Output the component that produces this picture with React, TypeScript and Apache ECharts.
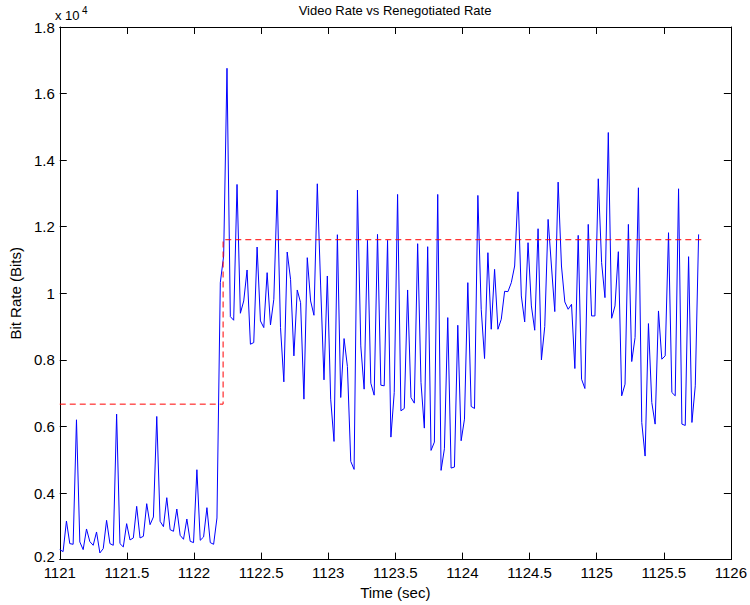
import React, { useEffect, useRef } from "react";
import * as echarts from "echarts";

// Frame timing of the video trace (seconds)
const START_TIME = 1121.0;
const FRAME_PERIOD = 0.02492;

// Per-frame video bit rate (bits)
const VIDEO_RATE_BITS: number[] = [
  2300, 2240, 3160, 2480, 2460, 6200, 2530, 2300, 2920, 2540, 2430, 2830,
  2200, 2330, 3180, 2480, 2430, 6370, 2480, 2380, 3080, 2590, 2650, 3600,
  2650, 2700, 3680, 3050, 3280, 6300, 3150, 2990, 3860, 2900, 2850, 3520,
  2730, 2610, 3220, 2550, 2510, 4700, 2580, 2680, 3560, 2510, 2460, 3250,
  10320, 11120, 16760, 9300, 9190, 13270, 9400, 9770, 10700, 8470, 8520, 11390,
  9170, 8970, 10620, 9050, 9820, 13100, 8970, 7340, 11240, 10420, 8120, 10100,
  9720, 6820, 11070, 9770, 9340, 13290, 10220, 7400, 10520, 6820, 5550, 11760,
  6870, 8640, 7800, 4950, 4710, 13100, 8420, 7120, 11590, 7300, 6940, 11770,
  7240, 7220, 11590, 5680, 7020, 12970, 6470, 6540, 10100, 6870, 6700, 11490,
  7320, 5950, 11400, 5280, 5530, 12970, 4680, 5330, 9270, 4750, 4780, 9040,
  5570, 6220, 10320, 6600, 6540, 12940, 9520, 8040, 11220, 8920, 10720, 8920,
  9220, 10060, 10050, 10320, 10820, 13050, 9920, 9140, 11520, 9620, 8890, 11940,
  8000, 9000, 12220, 10820, 9450, 13340, 10820, 9740, 9520, 9670, 7740, 11740,
  7420, 7140, 12070, 9320, 9320, 13440, 10920, 9870, 14830, 9250, 9620, 11250,
  6920, 7270, 12070, 7950, 8670, 13170, 6120, 5110, 9090, 6720, 6070, 9470,
  8020, 8120, 11820, 7020, 6920, 13140, 6070, 6030, 11100, 6120, 7220, 11770,
];

// Renegotiated rate (bits) as a step
const RATE_TIMES: number[] = [1121.0, 1122.217, 1122.217, 1125.79];
const RATE_BITS: number[] = [6670, 6670, 11610, 11610];

// Axis settings
const X_MIN = 1121;
const X_MAX = 1126;
const X_STEP = 0.5;
const Y_MIN = 2000;
const Y_MAX = 18000;
const Y_STEP = 2000;
const Y_SCALE = 10000;

const FONT = "'Liberation Sans', Arial, Helvetica, sans-serif";

export default function App() {
  const ref = useRef<HTMLDivElement>(null);

  useEffect(() => {
    if (!ref.current) return;
    const chart = echarts.init(ref.current, null, { renderer: "svg" });

    const videoData = VIDEO_RATE_BITS.map((v, i) => [START_TIME + i * FRAME_PERIOD, v]);
    const rateData = RATE_TIMES.map((t, i) => [t, RATE_BITS[i]]);

    const axisLine = { show: true, onZero: false, lineStyle: { color: "#000", width: 1 } };
    const axisTick = { show: true, inside: true, length: 7, lineStyle: { color: "#000", width: 1 } };

    chart.setOption({
      animation: false,
      backgroundColor: "#fff",
      grid: { left: 56, right: 16, top: 27, bottom: 44, containLabel: false },
      xAxis: [
        {
          type: "value",
          min: X_MIN,
          max: X_MAX,
          interval: X_STEP,
          position: "bottom",
          name: "Time (sec)",
          nameLocation: "middle",
          nameGap: 23,
          nameTextStyle: { color: "#000", fontSize: 15, fontFamily: FONT },
          axisLine,
          axisTick,
          axisLabel: {
            color: "#000",
            fontSize: 15,
            lineHeight: 12,
            fontFamily: FONT,
            margin: 7,
            formatter: (v: number) => String(v),
          },
          splitLine: { show: false },
        },
        {
          type: "value",
          min: X_MIN,
          max: X_MAX,
          interval: X_STEP,
          position: "top",
          axisLine,
          axisTick,
          axisLabel: { show: false },
          splitLine: { show: false },
        },
      ],
      yAxis: [
        {
          type: "value",
          min: Y_MIN,
          max: Y_MAX,
          interval: Y_STEP,
          position: "left",
          name: "Bit Rate (Bits)",
          nameLocation: "middle",
          nameGap: 31,
          nameTextStyle: { color: "#000", fontSize: 15, fontFamily: FONT },
          axisLine,
          axisTick,
          axisLabel: {
            color: "#000",
            fontSize: 15,
            lineHeight: 12,
            fontFamily: FONT,
            margin: 5,
            formatter: (v: number) =>
              v === Y_MIN ? `{lo|${v / Y_SCALE}}` : String(v / Y_SCALE),
            rich: {
              lo: {
                color: "#000",
                fontSize: 15,
                lineHeight: 12,
                fontFamily: FONT,
                padding: [0, 0, 6, 0],
              },
            },
          },
          splitLine: { show: false },
        },
        {
          type: "value",
          min: Y_MIN,
          max: Y_MAX,
          interval: Y_STEP,
          position: "right",
          axisLine,
          axisTick,
          axisLabel: { show: false },
          splitLine: { show: false },
        },
      ],
      graphic: [
        {
          type: "text",
          x: 395,
          y: 10,
          style: {
            text: "Video Rate vs Renegotiated Rate",
            fill: "#000",
            font: `13px ${FONT}`,
            textAlign: "center",
            textVerticalAlign: "middle",
          },
        },
        {
          type: "text",
          x: 55,
          y: 15,
          style: {
            text: "x 10",
            fill: "#000",
            font: `13px ${FONT}`,
            textAlign: "left",
            textVerticalAlign: "middle",
          },
        },
        {
          type: "text",
          x: 82,
          y: 10,
          style: {
            text: "4",
            fill: "#000",
            font: `10px ${FONT}`,
            textAlign: "left",
            textVerticalAlign: "middle",
          },
        },
      ],
      series: [
        {
          type: "line",
          xAxisIndex: 0,
          yAxisIndex: 0,
          data: videoData,
          symbol: "none",
          showSymbol: false,
          lineStyle: { color: "#0000ff", width: 1 },
          z: 2,
        },
        {
          type: "line",
          xAxisIndex: 0,
          yAxisIndex: 0,
          data: rateData,
          symbol: "none",
          showSymbol: false,
          lineStyle: { color: "#ff0000", width: 1, type: [6, 4] },
          z: 3,
        },
      ],
    });

    return () => chart.dispose();
  }, []);

  return (
    <div
      ref={ref}
      style={{ position: "fixed", left: 0, top: 0, width: 750, height: 605 }}
    />
  );
}
